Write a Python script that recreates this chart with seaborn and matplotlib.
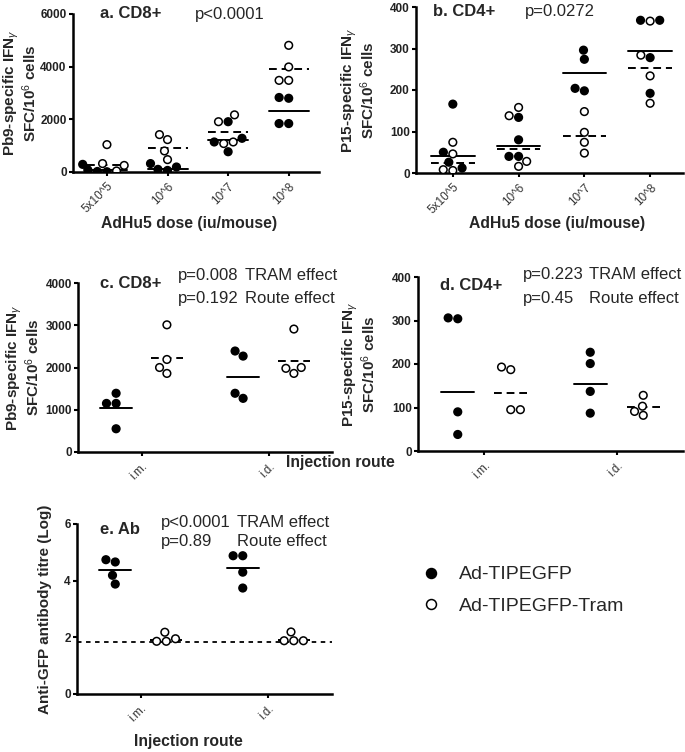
# dose-response and route panels, Prism-style scatter with group means
import numpy as np
import pandas as pd
import seaborn as sns
import matplotlib.pyplot as plt

doses = ["5x10^5", "10^6", "10^7", "10^8"]
routes = ["i.m.", "i.d."]
vaccines = ["Ad-TIPEGFP", "Ad-TIPEGFP-Tram"]

# a. CD8+ (Pb9) per dose, 4 mice per vaccine
a_filled = [[290, 80, 20, 10], [320, 190, 100, 60], [1910, 1280, 1140, 770], [2830, 2800, 1840, 1840]]
a_open = [[1040, 320, 250, 40], [1420, 1230, 800, 470], [2170, 1910, 1140, 1080], [4810, 3990, 3480, 3480]]
a_line_filled = [90, 130, 1220, 2320]
a_line_open = [280, 910, 1530, 3900]

# b. CD4+ (P15)
b_filled = [[166, 50, 26, 12], [134, 80, 40, 40], [296, 274, 204, 198], [368, 368, 278, 192]]
b_open = [[74, 46, 8, 6], [158, 138, 28, 16], [148, 98, 74, 48], [366, 284, 234, 168]]
b_line_filled = [42, 66, 242, 294]
b_line_open = [24, 58, 88, 253]

# c. CD8+ by route
c_filled = [[1390, 1150, 1150, 550], [2390, 2270, 1390, 1270]]
c_open = [[3010, 2190, 2000, 1860], [2910, 2000, 1980, 1860]]
c_line_filled = [1030, 1770]
c_line_open = [2230, 2160]

# d. CD4+ by route
d_filled = [[306, 304, 90, 38], [227, 201, 137, 87]]
d_open = [[193, 187, 95, 95], [128, 103, 91, 82]]
d_line_filled = [135, 155]
d_line_open = [133, 101]

# e. anti-GFP antibody (log titre)
e_filled = [[4.74, 4.66, 4.19, 3.88], [4.88, 4.88, 4.30, 3.74]]
e_open = [[2.18, 1.95, 1.86, 1.86], [2.19, 1.88, 1.88, 1.88]]
e_line_filled = [4.39, 4.45]
e_line_open = [1.92, 1.92]
e_detection = 1.83


def to_long(cats, filled, opened):
    rows = []
    for cat, f, o in zip(cats, filled, opened):
        rows += [(cat, vaccines[0], v) for v in f]
        rows += [(cat, vaccines[1], v) for v in o]
    return pd.DataFrame(rows, columns=["group", "vaccine", "value"])


sns.set_style("ticks")
plt.rcParams['font.family'] = ['Liberation Sans', 'DejaVu Sans']
plt.rcParams['mathtext.fontset'] = 'custom'
plt.rcParams['mathtext.rm'] = 'Liberation Sans'
plt.rcParams['mathtext.it'] = 'Liberation Sans:italic'
plt.rcParams['mathtext.bf'] = 'Liberation Sans:bold'

pal = {vaccines[0]: "black", vaccines[1]: "white"}
W, H = 685, 752
fig = plt.figure(figsize=(W / 100, H / 100), dpi=100)
TXT = 12


def add_ax(left, top, right, bottom):
    return fig.add_axes([left / W, 1 - bottom / H, (right - left) / W, (bottom - top) / H])


def style_axis(ax, ylim, yticks):
    ax.set_ylim(*ylim)
    ax.set_yticks(yticks)
    for s in ["top", "right"]:
        ax.spines[s].set_visible(False)
    for s in ["left", "bottom"]:
        ax.spines[s].set_linewidth(1.8)
        ax.spines[s].set_color("black")
    ax.tick_params(width=1.5, length=3, color="black", pad=1.5)
    ax.tick_params(axis="y", labelsize=8.5)
    for t in ax.get_yticklabels():
        t.set_fontweight("bold")
        t.set_color("#222222")
    ax.tick_params(axis="x", labelsize=8.5, labelcolor="#333333", pad=3)
    for t in ax.get_xticklabels():
        t.set_rotation(45)
        t.set_ha("right")
        t.set_rotation_mode("anchor")


def dose_panel(ax, filled, opened, lf, lo, ylim, yticks, ylabel):
    df = to_long(doses, filled, opened)
    sns.swarmplot(data=df, x="group", y="value", hue="vaccine", order=doses, hue_order=vaccines,
                  palette=pal, edgecolor="black", linewidth=1.1, size=5.5, legend=False,
                  warn_thresh=1, ax=ax)
    for i in range(len(doses)):
        ax.plot([i - 0.33, i + 0.33], [lf[i], lf[i]], color="black", lw=1.4)
        ax.plot([i - 0.33, i + 0.33], [lo[i], lo[i]], color="black", lw=1.4, ls=(0, (4, 2.5)))
    ax.set_xlim(-0.56, 3.5)
    style_axis(ax, ylim, yticks)
    ax.set_ylabel(ylabel, fontsize=11, fontweight="bold", va="center", linespacing=0.95)
    ax.set_xlabel("AdHu5 dose (iu/mouse)", fontsize=11.3, fontweight="bold")


def route_panel(ax, filled, opened, lf, lo, ylim, yticks, ylabel, legend=False):
    df = to_long(routes, filled, opened)
    sns.swarmplot(data=df, x="group", y="value", hue="vaccine", order=routes, hue_order=vaccines,
                  palette=pal, edgecolor="black", linewidth=1.1, size=5.5, dodge=True,
                  legend=legend, warn_thresh=1, ax=ax)
    for i in range(len(routes)):
        ax.plot([i - 0.2 - 0.125, i - 0.2 + 0.125], [lf[i], lf[i]], color="black", lw=1.4)
        ax.plot([i + 0.2 - 0.125, i + 0.2 + 0.125], [lo[i], lo[i]], color="black", lw=1.4,
                ls=(0, (4, 2.5)))
    ax.set_xlim(-0.5, 1.5)
    style_axis(ax, ylim, yticks)
    ax.set_ylabel(ylabel, fontsize=11, fontweight="bold", va="center", linespacing=0.95)
    ax.set_xlabel("")


ylab_pb9 = "Pb9-specific IFN$_{\\gamma}$\nSFC/10$^{6}$ cells"
ylab_p15 = "P15-specific IFN$_{\\gamma}$\nSFC/10$^{6}$ cells"

# a
ax_a = add_ax(73, 14, 319, 172)
dose_panel(ax_a, a_filled, a_open, a_line_filled, a_line_open, (0, 6000), [0, 2000, 4000, 6000], ylab_pb9)
ax_a.yaxis.set_label_coords(-0.215, 0.5)
ax_a.xaxis.set_label_coords(0.47, -0.28)
ax_a.text(0.11, 1.0, "a. CD8+", transform=ax_a.transAxes, fontsize=TXT, fontweight="bold", va="center")
ax_a.text(0.496, 1.0, "p<0.0001", transform=ax_a.transAxes, fontsize=TXT, va="center")

# b
ax_b = add_ax(416, 7, 683, 173)
dose_panel(ax_b, b_filled, b_open, b_line_filled, b_line_open, (0, 400), [0, 100, 200, 300, 400], ylab_p15)
ax_b.yaxis.set_label_coords(-0.215, 0.5)
ax_b.xaxis.set_label_coords(0.53, -0.26)
ax_b.text(0.064, 0.97, "b. CD4+", transform=ax_b.transAxes, fontsize=TXT, fontweight="bold", va="center")
ax_b.text(0.408, 0.97, "p=0.0272", transform=ax_b.transAxes, fontsize=TXT, va="center")

# c
ax_c = add_ax(78, 283, 332, 452)
route_panel(ax_c, c_filled, c_open, c_line_filled, c_line_open, (0, 4000), [0, 1000, 2000, 3000, 4000], ylab_pb9)
ax_c.yaxis.set_label_coords(-0.215, 0.5)
ax_c.text(0.087, 1.0, "c. CD8+", transform=ax_c.transAxes, fontsize=TXT, fontweight="bold", va="center")
ax_c.text(0.394, 1.047, "p=0.008", transform=ax_c.transAxes, fontsize=TXT, va="center")
ax_c.text(0.657, 1.047, "TRAM effect", transform=ax_c.transAxes, fontsize=TXT, va="center")
ax_c.text(0.394, 0.911, "p=0.192", transform=ax_c.transAxes, fontsize=TXT, va="center")
ax_c.text(0.657, 0.911, "Route effect", transform=ax_c.transAxes, fontsize=TXT, va="center")

# d
ax_d = add_ax(418, 277, 683, 451)
route_panel(ax_d, d_filled, d_open, d_line_filled, d_line_open, (0, 400), [0, 100, 200, 300, 400], ylab_p15)
ax_d.yaxis.set_label_coords(-0.22, 0.5)
ax_d.text(0.083, 0.951, "d. CD4+", transform=ax_d.transAxes, fontsize=TXT, fontweight="bold", va="center")
ax_d.text(0.396, 1.016, "p=0.223", transform=ax_d.transAxes, fontsize=TXT, va="center")
ax_d.text(0.645, 1.016, "TRAM effect", transform=ax_d.transAxes, fontsize=TXT, va="center")
ax_d.text(0.396, 0.878, "p=0.45", transform=ax_d.transAxes, fontsize=TXT, va="center")
ax_d.text(0.645, 0.878, "Route effect", transform=ax_d.transAxes, fontsize=TXT, va="center")

fig.text(340 / W, 1 - 462 / H, "Injection route", fontsize=11.3, fontweight="bold", ha="center", va="center")

# e
ax_e = add_ax(77, 524, 332, 694)
route_panel(ax_e, e_filled, e_open, e_line_filled, e_line_open, (0, 6), [0, 2, 4, 6],
            "Anti-GFP antibody titre (Log)", legend=True)
ax_e.axhline(e_detection, color="black", lw=1.3, ls=(0, (2.5, 2.5)))
ax_e.yaxis.set_label_coords(-0.124, 0.5)
ax_e.set_xlabel("Injection route", fontsize=11.3, fontweight="bold")
ax_e.xaxis.set_label_coords(0.436, -0.235)
ax_e.text(0.091, 0.966, "e. Ab", transform=ax_e.transAxes, fontsize=TXT, fontweight="bold", va="center")
ax_e.text(0.33, 1.008, "p<0.0001", transform=ax_e.transAxes, fontsize=TXT, va="center")
ax_e.text(0.628, 1.008, "TRAM effect", transform=ax_e.transAxes, fontsize=TXT, va="center")
ax_e.text(0.33, 0.896, "p=0.89", transform=ax_e.transAxes, fontsize=TXT, va="center")
ax_e.text(0.628, 0.896, "Route effect", transform=ax_e.transAxes, fontsize=TXT, va="center")

handles, labels = ax_e.get_legend_handles_labels()
ax_e.get_legend().remove()
fig.legend(handles, labels, loc="upper left", bbox_to_anchor=(412 / W, 1 - 556 / H), frameon=False,
           fontsize=14, markerscale=1.3, handlelength=1.0, handletextpad=0.9, labelspacing=0.7,
           borderpad=0)

fig.savefig("out.png", dpi=100)
